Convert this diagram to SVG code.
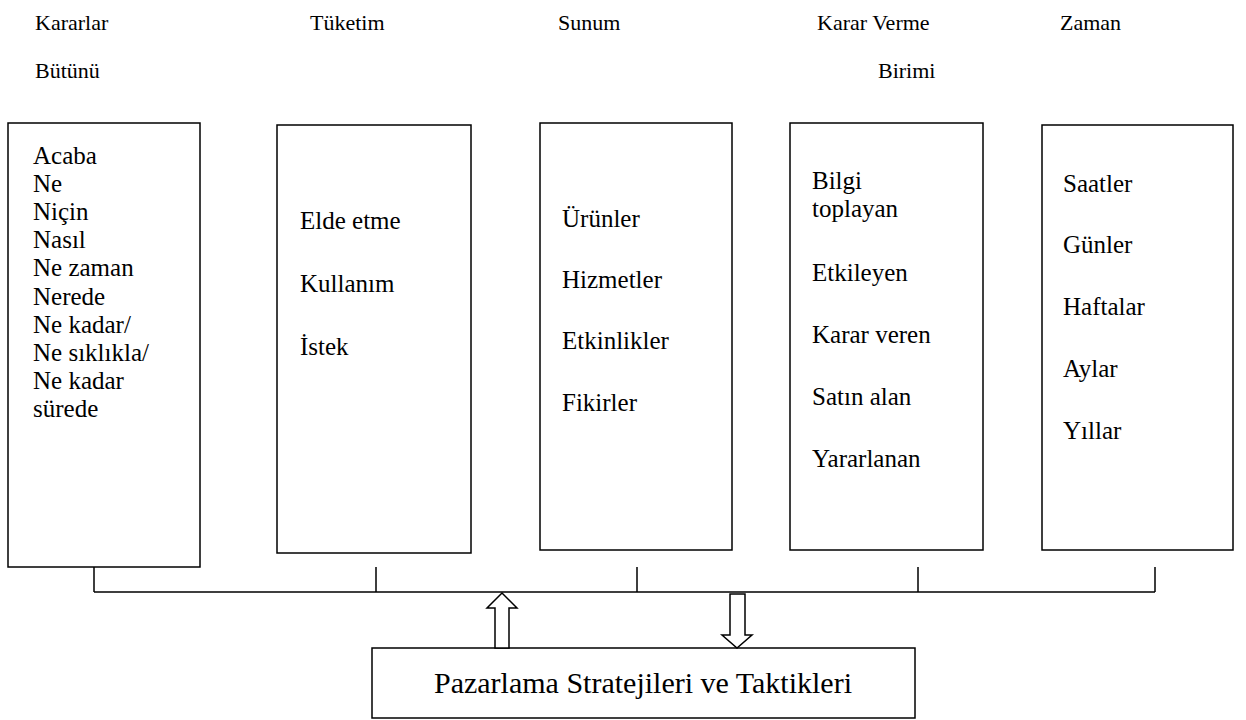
<svg xmlns="http://www.w3.org/2000/svg" width="1246" height="720" viewBox="0 0 1246 720">
  <style>
    .box { fill: #fff; stroke: #000; stroke-width: 1.5; }
    .hdr { font-size: 22px; fill: #000; }
    .txt { font-size: 25px; fill: #000; }
    .big { font-size: 30px; fill: #000; }
    .wire { fill: none; stroke: #000; stroke-width: 1.5; }
    .hollow { fill: #fff; stroke: #000; stroke-width: 1.5; stroke-linejoin: miter; }
  </style>

  <g font-family="Liberation Serif, Times New Roman, serif">
  <!-- column headings -->
  <g id="headings">
    <text class="hdr" x="35" y="30">Kararlar</text>
    <text class="hdr" x="35" y="78">Bütünü</text>
    <text class="hdr" x="310" y="30">Tüketim</text>
    <text class="hdr" x="558" y="30">Sunum</text>
    <text class="hdr" x="817" y="30">Karar Verme</text>
    <text class="hdr" x="878" y="78">Birimi</text>
    <text class="hdr" x="1060" y="30">Zaman</text>
  </g>

  <g id="kararlar">
    <rect class="box" x="8" y="123" width="192" height="444"/>
    <text class="txt" x="33" y="164">Acaba</text>
    <text class="txt" x="33" y="192">Ne</text>
    <text class="txt" x="33" y="220">Niçin</text>
    <text class="txt" x="33" y="248">Nasıl</text>
    <text class="txt" x="33" y="276">Ne zaman</text>
    <text class="txt" x="33" y="305">Nerede</text>
    <text class="txt" x="33" y="333">Ne kadar/</text>
    <text class="txt" x="33" y="361">Ne sıklıkla/</text>
    <text class="txt" x="33" y="389">Ne kadar</text>
    <text class="txt" x="33" y="417">sürede</text>
  </g>

  <g id="tuketim">
    <rect class="box" x="277" y="125" width="194" height="428"/>
    <text class="txt" x="300" y="229">Elde etme</text>
    <text class="txt" x="300" y="292">Kullanım</text>
    <text class="txt" x="300" y="355">İstek</text>
  </g>

  <g id="sunum">
    <rect class="box" x="540" y="123" width="192" height="427"/>
    <text class="txt" x="562" y="227">Ürünler</text>
    <text class="txt" x="562" y="288">Hizmetler</text>
    <text class="txt" x="562" y="349">Etkinlikler</text>
    <text class="txt" x="562" y="411">Fikirler</text>
  </g>

  <g id="karar-verme">
    <rect class="box" x="790" y="123" width="193" height="427"/>
    <text class="txt" x="812" y="189">Bilgi</text>
    <text class="txt" x="812" y="217">toplayan</text>
    <text class="txt" x="812" y="281">Etkileyen</text>
    <text class="txt" x="812" y="343">Karar veren</text>
    <text class="txt" x="812" y="405">Satın alan</text>
    <text class="txt" x="812" y="467">Yararlanan</text>
  </g>

  <g id="zaman">
    <rect class="box" x="1042" y="125" width="191" height="425"/>
    <text class="txt" x="1063" y="192">Saatler</text>
    <text class="txt" x="1063" y="253">Günler</text>
    <text class="txt" x="1063" y="315">Haftalar</text>
    <text class="txt" x="1063" y="377">Aylar</text>
    <text class="txt" x="1063" y="439">Yıllar</text>
  </g>

  <g id="stratejiler">
    <rect class="box" x="372" y="648" width="543" height="70"/>
    <text class="big" x="643" y="693" text-anchor="middle">Pazarlama Stratejileri ve Taktikleri</text>
  </g>
  </g>

  <!-- bus joining the columns, and the two-way hollow arrows -->
  <g id="connectors">
    <path class="wire" d="M94 592 H1155 M94 567 V592 M376 567 V592 M637 567 V592 M918 567 V592 M1155 567 V592"/>
    <path class="hollow" d="M495 648 V608 H487 L502 593 L517 608 H509 V648 Z"/>
    <path class="hollow" d="M730 594 H745 V635 H752 L737 648 L722 635 H730 Z"/>
  </g>
</svg>
